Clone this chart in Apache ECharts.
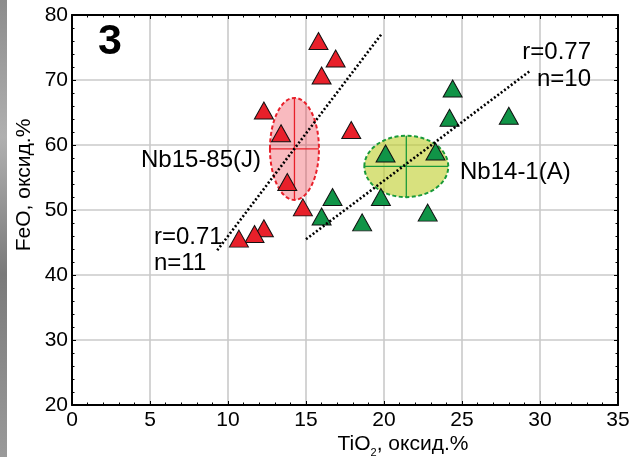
<!DOCTYPE html>
<html>
<head>
<meta charset="utf-8">
<script src="https://cdn.jsdelivr.net/npm/echarts@6/dist/echarts.min.js"></script>
<style>
  html, body { margin: 0; padding: 0; background: #fff; }
  #chart { width: 636px; height: 457px; }
</style>
</head>
<body>
<div id="chart"></div>
<script>
// TiO2 / FeO contents (oxide %) of the two ilmenite groups
const redTiO2 = [15.8, 16.9, 16.0, 12.3, 17.9, 13.4, 13.8, 14.8, 12.3, 11.7, 10.7];
const redFeO  = [76.0, 73.3, 70.7, 65.3, 62.3, 61.8, 54.3, 50.4, 47.2, 46.3, 45.6];
const greenTiO2 = [24.4, 24.2, 28.0, 23.3, 20.1, 16.7, 19.8, 16.0, 18.6, 22.8];
const greenFeO  = [68.7, 64.2, 64.5, 59.0, 58.7, 52.0, 52.0, 49.0, 48.1, 49.6];

// Group means with spread: [TiO2, FeO, half-width TiO2, half-height FeO]
const redEllipse = [14.26, 59.4, 1.57, 7.85];
const greenEllipse = [21.43, 56.7, 2.69, 4.72];

// Correlation trend lines (end points)
const redTrend = [[9.31, 43.8], [19.85, 77.1]];
const greenTrend = [[15.0, 45.5], [29.42, 71.5]];

// Axis ranges
const xRange = [0, 35, 5];
const yRange = [20, 80, 10];

const RED = '#e8202a';
const GREEN = '#109447';
const FONT = '"Liberation Sans", Arial, sans-serif';

const chart = echarts.init(document.getElementById('chart'), null, { renderer: 'canvas' });

function ellipseSeries(values, fill, stroke) {
  return {
    type: 'custom',
    z: 1,
    silent: true,
    data: [values],
    renderItem: function (params, api) {
      const c = api.coord([api.value(0), api.value(1)]);
      const s = api.size([api.value(2), api.value(3)]);
      return {
        type: 'group',
        children: [
          { type: 'ellipse', shape: { cx: c[0], cy: c[1], rx: s[0], ry: s[1] },
            style: { fill: fill, stroke: stroke, lineWidth: 2, lineDash: [4, 2.5] } },
          { type: 'line', shape: { x1: c[0] - s[0], y1: c[1], x2: c[0] + s[0], y2: c[1] },
            style: { stroke: stroke, lineWidth: 1.3 } },
          { type: 'line', shape: { x1: c[0], y1: c[1] - s[1], x2: c[0], y2: c[1] + s[1] },
            style: { stroke: stroke, lineWidth: 1.3 } }
        ]
      };
    }
  };
}

function pointSeries(xs, ys, color) {
  return {
    type: 'scatter',
    z: 3,
    symbol: 'triangle',
    symbolSize: [19, 17],
    itemStyle: { color: color, borderColor: '#111', borderWidth: 1, opacity: 1 },
    data: xs.map((x, i) => [x, ys[i]])
  };
}

function trendSeries(pts) {
  return {
    type: 'line',
    z: 4,
    symbol: 'none',
    silent: true,
    lineStyle: { color: '#000', width: 2.6, type: [2, 2.2], cap: 'butt' },
    data: pts
  };
}

const frameAxis = {
  axisLine: { show: true, onZero: false, lineStyle: { color: '#000', width: 2 } },
  axisTick: { show: true, inside: true, length: 4, lineStyle: { color: '#000', width: 1 } },
  minorTick: { show: true, splitNumber: 5, length: 2.5, lineStyle: { color: '#000', width: 1 } },
  axisLabel: { show: false },
  splitLine: { show: false }
};

const option = {
  backgroundColor: '#fff',
  animation: false,
  grid: { left: 72, right: 18, top: 15, bottom: 52 },
  xAxis: [
    {
      type: 'value', min: xRange[0], max: xRange[1], interval: xRange[2],
      axisLine: { onZero: false, lineStyle: { color: '#000', width: 2 } },
      axisTick: { show: true, inside: true, length: 4, lineStyle: { color: '#000' } },
      minorTick: { show: true, splitNumber: 5, length: 2.5, lineStyle: { color: '#000' } },
      axisLabel: { color: '#000', fontSize: 21, fontFamily: FONT, margin: 5 },
      splitLine: { show: true, lineStyle: { color: '#cacaca', width: 1.6 } }
    },
    Object.assign({ type: 'value', position: 'top', min: xRange[0], max: xRange[1], interval: xRange[2] }, frameAxis)
  ],
  yAxis: [
    {
      type: 'value', min: yRange[0], max: yRange[1], interval: yRange[2],
      axisLine: { onZero: false, lineStyle: { color: '#000', width: 2 } },
      axisTick: { show: true, inside: true, length: 4, lineStyle: { color: '#000' } },
      minorTick: { show: true, splitNumber: 5, length: 2.5, lineStyle: { color: '#000' } },
      axisLabel: { color: '#000', fontSize: 21, fontFamily: FONT, margin: 4 },
      splitLine: { show: true, lineStyle: { color: '#cacaca', width: 1.6 } }
    },
    Object.assign({ type: 'value', position: 'right', min: yRange[0], max: yRange[1], interval: yRange[2] }, frameAxis)
  ],
  series: [
    ellipseSeries(redEllipse, 'rgba(235,40,55,0.32)', RED),
    ellipseSeries(greenEllipse, 'rgba(190,205,40,0.6)', '#1a9a3a'),
    pointSeries(redTiO2, redFeO, RED),
    pointSeries(greenTiO2, greenFeO, GREEN),
    trendSeries(redTrend),
    trendSeries(greenTrend)
  ],
  graphic: [
    // strip along the left edge
    { type: 'rect', left: 0, top: 0, z: 0, shape: { width: 7, height: 457 },
      style: { fill: new echarts.graphic.LinearGradient(0, 0, 0, 1, [
        { offset: 0, color: '#8c8c8c' }, { offset: 0.3, color: '#b0b0b0' },
        { offset: 0.6, color: '#7a7a7a' }, { offset: 1, color: '#9a9a9a' }]) } },
    { type: 'text', x: 110, y: 42, z: 10,
      style: { text: '3', font: 'bold 43px ' + FONT, fill: '#000', align: 'center', verticalAlign: 'middle' } },
    { type: 'text', x: 141, y: 160, z: 10,
      style: { text: 'Nb15-85(J)', font: '24px ' + FONT, fill: '#000', align: 'left', verticalAlign: 'middle' } },
    { type: 'text', x: 460, y: 172, z: 10,
      style: { text: 'Nb14-1(A)', font: '24px ' + FONT, fill: '#000', align: 'left', verticalAlign: 'middle' } },
    { type: 'text', x: 591, y: 52, z: 10,
      style: { text: 'r=0.77', font: '24px ' + FONT, fill: '#000', align: 'right', verticalAlign: 'middle' } },
    { type: 'text', x: 591, y: 79, z: 10,
      style: { text: 'n=10', font: '24px ' + FONT, fill: '#000', align: 'right', verticalAlign: 'middle' } },
    { type: 'text', x: 154, y: 237, z: 10,
      style: { text: 'r=0.71', font: '24px ' + FONT, fill: '#000', align: 'left', verticalAlign: 'middle' } },
    { type: 'text', x: 154, y: 263, z: 10,
      style: { text: 'n=11', font: '24px ' + FONT, fill: '#000', align: 'left', verticalAlign: 'middle' } },
    // axis titles
    { type: 'text', x: 24, y: 185, rotation: Math.PI / 2, z: 10,
      style: { text: 'FeO, оксид.%', font: '21px ' + FONT, fill: '#000', align: 'center', verticalAlign: 'middle' } },
    { type: 'text', x: 403, y: 444, z: 10,
      style: {
        text: '{a|TiO}{s|2}{a|, оксид.%}', align: 'center', verticalAlign: 'middle',
        rich: {
          a: { fontSize: 21, fontFamily: FONT, fill: '#000', color: '#000', lineHeight: 22, verticalAlign: 'bottom' },
          s: { fontSize: 11, fontFamily: FONT, fill: '#000', color: '#000', lineHeight: 12, verticalAlign: 'bottom', padding: [0, 0, -3, 0] }
        }
      } }
  ]
};

chart.setOption(option);
</script>
</body>
</html>
